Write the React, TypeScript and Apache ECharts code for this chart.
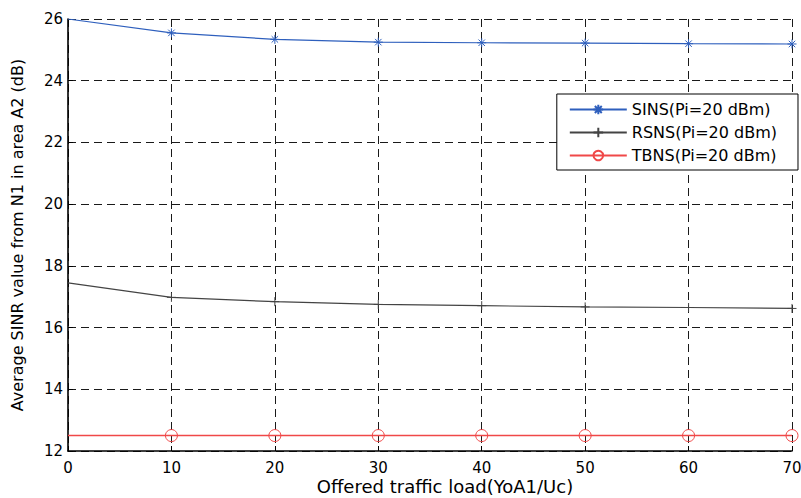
import React, { useEffect, useRef } from "react";
import * as echarts from "echarts";

const xValues = [0, 10, 20, 30, 40, 50, 60, 70];
const sinsValues = [26.0, 25.55, 25.34, 25.25, 25.23, 25.22, 25.2, 25.19];
const rsnsValues = [17.45, 16.98, 16.84, 16.75, 16.71, 16.67, 16.65, 16.62];
const tbnsValues = [12.5, 12.5, 12.5, 12.5, 12.5, 12.5, 12.5, 12.5];
const seriesNames = ["SINS(Pi=20 dBm)", "RSNS(Pi=20 dBm)", "TBNS(Pi=20 dBm)"];
const xAxisTitle = "Offered traffic load(YoA1/Uc)";
const yAxisTitle = "Average SINR value from N1 in area A2 (dB)";

const STAR = "path://M0 -5 L0 5 M-5 0 L5 0 M-3.6 -3.6 L3.6 3.6 M-3.6 3.6 L3.6 -3.6";
const PLUS = "path://M0 -5 L0 5 M-5 0 L5 0";

function build(vals: number[]) {
  return xValues.map((x, i) =>
    i === 0 ? { value: [x, vals[i]], symbol: "none" } : { value: [x, vals[i]] }
  );
}

export default function App() {
  const ref = useRef<HTMLDivElement>(null);
  useEffect(() => {
    const chart = echarts.init(ref.current!, null, { renderer: "svg" });
    const font = "'DejaVu Sans', sans-serif";
    chart.setOption({
      animation: false,
      backgroundColor: "#fff",
      textStyle: { fontFamily: font },
      grid: { left: 68, right: 9, top: 19, bottom: 47, containLabel: false, outerBoundsMode: "none" },
      legend: {
        orient: "vertical",
        right: 3,
        top: 94,
        data: seriesNames,
        borderColor: "#000",
        borderWidth: 1,
        backgroundColor: "#fff",
        padding: [6, 21, 5, 12],
        itemWidth: 57,
        itemHeight: 12,
        itemGap: 4,
        textStyle: { fontSize: 16, color: "#000", fontFamily: font, lineHeight: 19 },
      },
      xAxis: {
        type: "value",
        min: 0,
        max: 70,
        interval: 10,
        name: xAxisTitle,
        nameLocation: "middle",
        nameGap: 26,
        nameMoveOverlap: false,
        nameTextStyle: { fontSize: 18, color: "#000", padding: [0, 0, 0, 30], lineHeight: 19 },
        axisLine: { lineStyle: { color: "#000", width: 1.6 } },
        axisTick: { inside: true, length: 5, lineStyle: { color: "#000" } },
        axisLabel: { fontSize: 15, color: "#000", margin: 9 },
        splitLine: { show: true, lineStyle: { color: "#1a1a1a", type: [8, 5], width: 1 } },
      },
      yAxis: {
        type: "value",
        min: 12,
        max: 26,
        interval: 2,
        name: yAxisTitle,
        nameLocation: "middle",
        nameGap: 43,
        nameMoveOverlap: false,
        nameTextStyle: { fontSize: 16, color: "#000" },
        axisLine: { show: true, lineStyle: { color: "#000", width: 1.6 } },
        axisTick: { show: true, inside: true, length: 5, lineStyle: { color: "#000" } },
        axisLabel: { fontSize: 15, color: "#000", margin: 5 },
        splitLine: { show: true, lineStyle: { color: "#1a1a1a", type: [8, 5], width: 1 } },
      },
      series: [
        {
          name: seriesNames[0],
          type: "line",
          data: build(sinsValues),
          symbol: STAR,
          symbolSize: 9,
          showAllSymbol: true,
          lineStyle: { color: "#2e5fbd", width: 1.2 },
          itemStyle: { color: "#2e5fbd", borderColor: "#2e5fbd", borderWidth: 1 },
        },
        {
          name: seriesNames[1],
          type: "line",
          data: build(rsnsValues),
          symbol: PLUS,
          symbolSize: 9,
          showAllSymbol: true,
          lineStyle: { color: "#444", width: 1.2 },
          itemStyle: { color: "#444", borderColor: "#444", borderWidth: 1 },
        },
        {
          name: seriesNames[2],
          type: "line",
          data: build(tbnsValues),
          symbol: "circle",
          symbolSize: 12,
          showAllSymbol: true,
          lineStyle: { color: "#f04848", width: 1.4 },
          itemStyle: { color: "rgba(255,255,255,0)", borderColor: "#f04848", borderWidth: 1 },
        },
      ],
    });
    return () => chart.dispose();
  }, []);
  return <div ref={ref} style={{ width: 801, height: 498, position: "absolute", left: 0, top: 0 }} />;
}
